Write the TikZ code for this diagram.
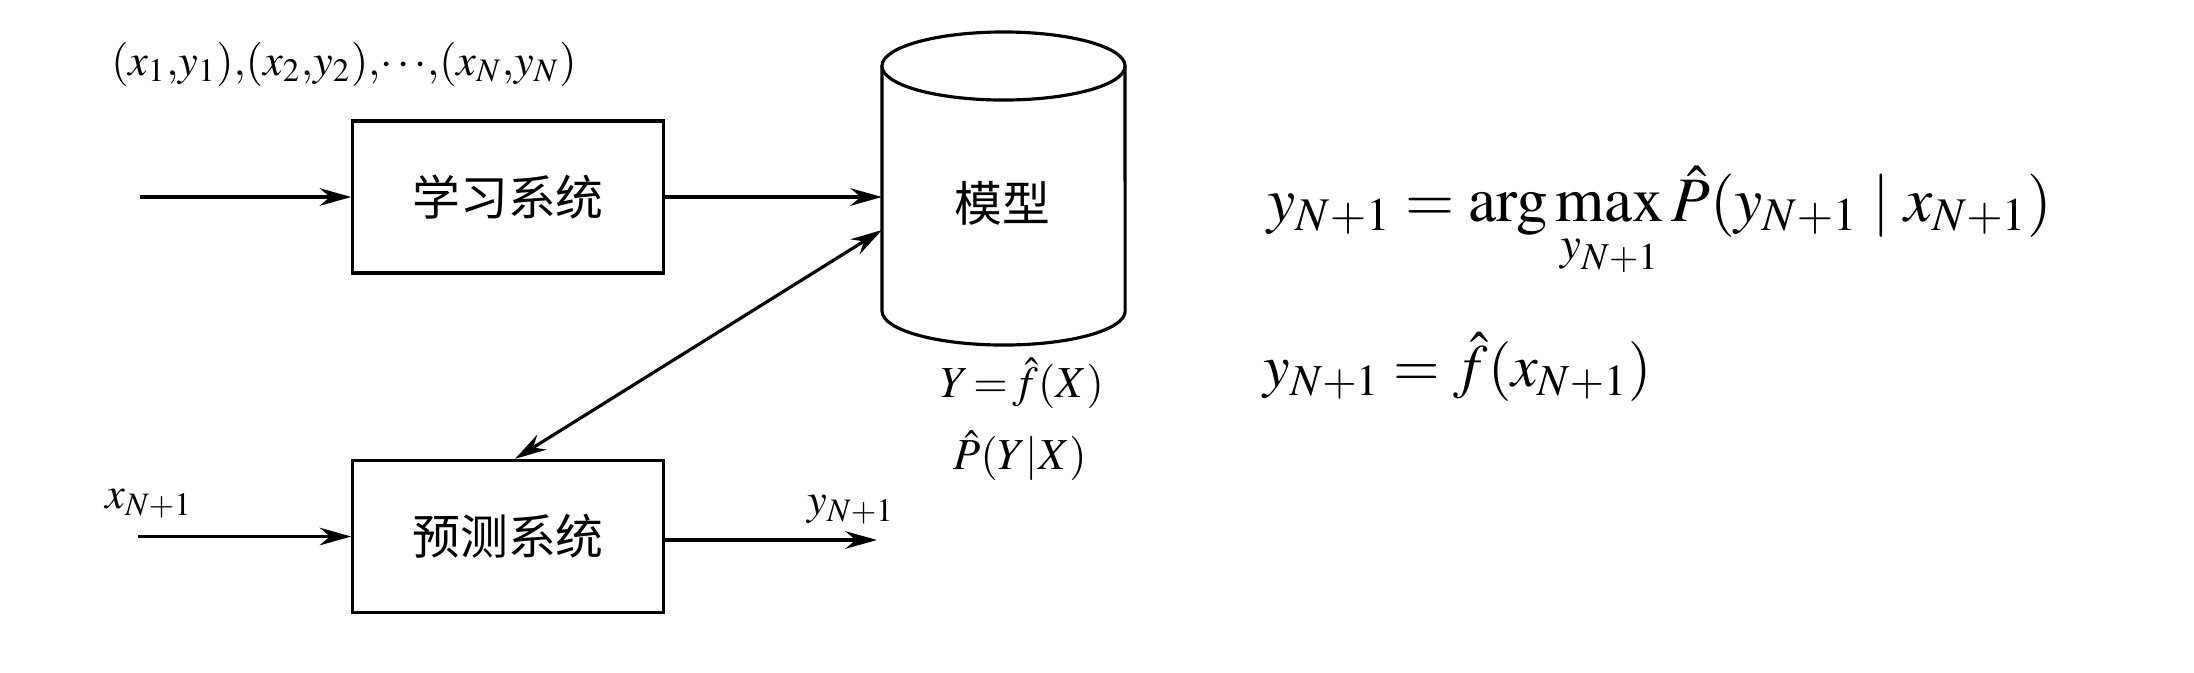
\documentclass[tikz,border=0pt]{standalone}
\usepackage{amsmath}
\usepackage{mathptmx}
\usepackage{fontspec}
\newfontfamily\cjk{Noto Sans CJK SC}
\usetikzlibrary{arrows.meta,calc}
\begin{document}
\begin{tikzpicture}[x=0.01cm,y=-0.01cm,
  sysbox/.style={draw, line width=0.9pt, minimum width=3.1cm, minimum height=1.52cm, inner sep=0pt,
    font=\cjk\fontsize{13.6}{16}\selectfont},
  conn/.style={line width=0.9pt, -{Stealth[length=9pt,width=5pt]}},
  dconn/.style={line width=0.9pt, {Stealth[length=9pt,width=5pt]}-{Stealth[length=9pt,width=5pt]}},
  lbl/.style={inner sep=0pt, font=\fontsize{12.6}{15}\selectfont},
  cyl/.style={line width=0.9pt}]
\useasboundingbox (0,0) rectangle (2194,672);
% boxes
\node[sysbox] (top) at (508,197) {学习系统};
\node[sysbox] (bot) at (508,536.5) {预测系统};
% model cylinder
\coordinate (cylNW) at (882,66);
\coordinate (cylSW) at (882,311);
\coordinate (cylNE) at (1125,66);
\coordinate (cylN) at (1003.5,66);
\draw[cyl] (cylNW) -- (cylSW)
   arc[start angle=180, end angle=360, x radius=1.215cm, y radius=0.34cm] -- (cylNE);
\draw[cyl] (cylN) ellipse[x radius=1.215cm, y radius=0.34cm];
\node[inner sep=0pt, font=\cjk\fontsize{13.6}{16}\selectfont] (model) at (1002,203) {模型};
\coordinate (cylin) at (882,230);
% labels
\node[lbl] (data) at (344,64) {$(x_1{,}y_1){,}(x_2{,}y_2){,}{\cdots}{,}(x_N{,}y_N)$};
\node[lbl] (xin) at (149,504) {$x_{N+1}$};
\node[lbl] (yout) at (851,510) {$y_{N+1}$};
\node[lbl] (fx) at (1022,383) {$Y\!=\!\hat{f}(X)$};
\node[lbl] (pyx) at (1020,456) {$\hat{P}(Y|X)$};
% formulas
\node[inner sep=0pt, anchor=base west, font=\fontsize{18}{21}\selectfont] (eq1) at (1267,221)
  {$\displaystyle y_{N+1}=\arg\max_{y_{N+1}}\hat{P}(y_{N+1}\mid x_{N+1})$};
\node[inner sep=0pt, anchor=base west, font=\fontsize{17}{20}\selectfont] (eq2) at (1263,386)
  {$y_{N+1}=\hat{f}(x_{N+1})$};
% connectors
\coordinate (in1) at (140,197);
\coordinate (in2) at (138,536.5);
\coordinate (out) at (877,540);
\draw[conn] (in1) -- (top.west);
\draw[conn] (in2) -- (bot.west);
\draw[conn] (top.east) -- (top.east -| cylNW);
\draw[conn] (bot.east |- out) -- (out);
\draw[dconn] (cylin) -- ($(bot.north)+(7,0)$);
\end{tikzpicture}
\end{document}
